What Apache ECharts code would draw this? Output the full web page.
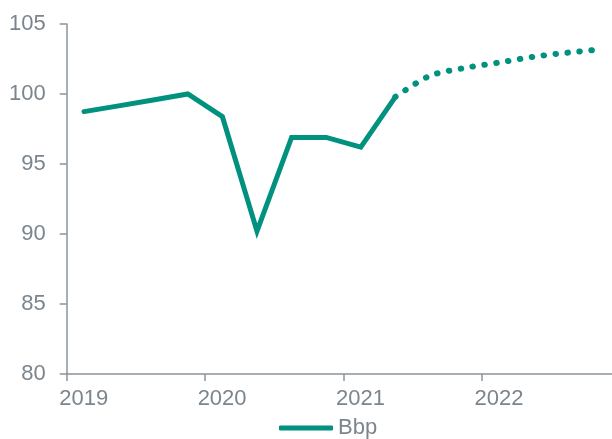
<!DOCTYPE html>
<html>
<head>
<meta charset="utf-8">
<script src="https://cdn.jsdelivr.net/npm/echarts@6/dist/echarts.min.js"></script>
<style>html,body{margin:0;padding:0;background:#fff}#c{width:612px;height:439px}</style>
</head>
<body>
<div id="c"></div>
<script>
// Quarterly periods (year, quarter)
var actualPeriods = ['2019Q1','2019Q2','2019Q3','2019Q4','2020Q1','2020Q2','2020Q3','2020Q4','2021Q1','2021Q2'];
var actualValues  = [98.74, 99.15, 99.57, 100.0, 98.38, 90.2, 96.9, 96.9, 96.2, 99.8];
var forecastPeriods = ['2021Q2','2021Q3','2021Q4','2022Q1','2022Q2','2022Q3','2022Q4'];
var forecastValues  = [99.8, 101.3, 101.86, 102.25, 102.66, 102.96, 103.2];
var yearTicks = [2019, 2020, 2021, 2022];
var seriesName = 'Bbp';

function periodToX(p){ var y = +p.slice(0,4), q = +p.slice(5); return y + (q - 0.5) / 4; }
function pairs(ps, vs){ return ps.map(function(p,i){ return [periodToX(p), vs[i]]; }); }

var teal = '#00917f';
var axisGray = '#8a949c';
var textGray = '#7b858e';

var chart = echarts.init(document.getElementById('c'), null, {renderer:'canvas'});
chart.setOption({
  animation: false,
  grid: {left: 66.7, right: 0, top: 24, bottom: 65},
  xAxis: {
    type: 'value', min: yearTicks[0], max: 2022.94, interval: 1,
    splitLine: {show: false},
    axisLine: {lineStyle: {color: axisGray, width: 1.5}},
    axisTick: {show: true, length: 7, lineStyle: {color: axisGray, width: 1.5}},
    axisLabel: {
      color: textGray, fontSize: 22, fontFamily: 'Liberation Sans, Arial, sans-serif',
      margin: 14, padding: [0,0,0,34], showMaxLabel: false,
      formatter: function(v){ return yearTicks.indexOf(v) >= 0 ? String(v) : ''; }
    }
  },
  yAxis: {
    type: 'value', min: 80, max: 105, interval: 5,
    splitLine: {show: false},
    axisLine: {show: true, lineStyle: {color: axisGray, width: 1.5}},
    axisTick: {show: true, length: 7, lineStyle: {color: axisGray, width: 1.5}},
    axisLabel: {color: textGray, fontSize: 22, fontFamily: 'Liberation Sans, Arial, sans-serif', margin: 21}
  },
  legend: {
    data: [{name: seriesName, icon: 'roundRect'}], left: 279, top: 417, padding: 0,
    itemWidth: 54, itemHeight: 5, itemGap: 5,
    itemStyle: {color: teal},
    textStyle: {color: textGray, fontSize: 22, fontFamily: 'Liberation Sans, Arial, sans-serif'}
  },
  series: [
    {
      name: seriesName, type: 'line', data: pairs(actualPeriods, actualValues),
      symbol: 'none', lineStyle: {color: teal, width: 5, cap: 'round', join: 'miter'},
      itemStyle: {color: teal}
    },
    {
      name: seriesName + ' prognoza', type: 'line', data: pairs(forecastPeriods, forecastValues),
      symbol: 'none', smooth: 0.3,
      lineStyle: {color: teal, width: 6, type: [0.5, 11.5], cap: 'round'},
      itemStyle: {color: teal}
    }
  ]
});
</script>
</body>
</html>
